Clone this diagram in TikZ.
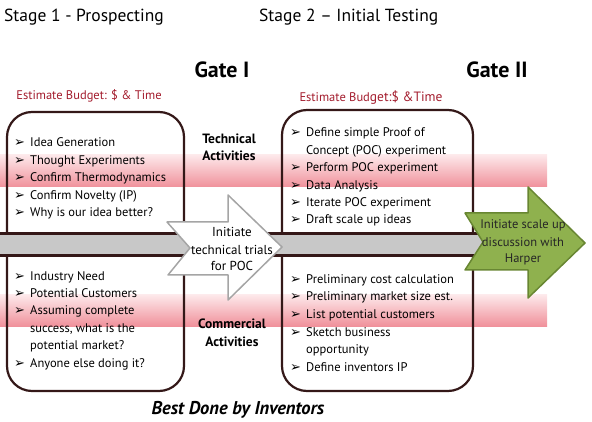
\documentclass[tikz,border=0pt]{standalone}
\usepackage{fontspec}
\setmainfont{PT Sans}
\newfontfamily\symfont{DejaVu Sans}
\definecolor{budgetred}{RGB}{163,28,45}
\definecolor{boxbrown}{RGB}{52,24,24}
\definecolor{bandgray}{RGB}{200,200,200}
\definecolor{pinkdeep}{RGB}{240,145,155}
\definecolor{pinklight}{RGB}{253,232,234}
\definecolor{arrowgray}{RGB}{165,165,165}
\definecolor{leafgreen}{RGB}{143,177,78}
\definecolor{leafdark}{RGB}{104,134,50}
\newcommand{\bul}{\makebox[16pt][l]{\symfont\fontsize{13}{10}\selectfont ➢}}
\newcommand{\ind}{\hspace*{16pt}}

\begin{document}
\begin{tikzpicture}[x=1pt,y=-1pt,line join=round,
	every node/.style={inner sep=0pt,font=\fontsize{13}{17.4}\selectfont},
	lst/.style={anchor=base west,align=left,font=\fontsize{12.5}{17.4}\selectfont},
	stage/.style={anchor=base west,font=\fontsize{17.5}{20}\selectfont},
	gate/.style={anchor=base,font=\fontsize{22}{26}\selectfont\bfseries},
	budget/.style={anchor=base,text=budgetred,font=\fontsize{12.5}{15}\selectfont},
	act/.style={anchor=base,align=center,font=\fontsize{13.5}{17.8}\selectfont\bfseries},
	stagebox/.style={draw=boxbrown,line width=2.2pt,rounded corners=25pt},
	pinkband/.style={top color=pinklight,bottom color=pinkdeep}]
	\useasboundingbox (0,0) rectangle (592,422);
	%% Tiêu đề các giai đoạn
	\node[stage] (stageA) at (4,22) {Stage 1 - Prospecting};
	\node[stage] (stageB) at (259,22) {Stage 2 – Initial Testing};
	\node[gate] (gateA) at (222,78) {Gate I};
	\node[gate] (gateB) at (497,78) {Gate II};
	\node[budget] (budA) at (89,100) {Estimate Budget: \$ \& Time};
	\node[budget] (budB) at (371,102) {Estimate Bud{\fontsize{13.5}{15}\selectfont get:\$ \&Time}};
	%% Dải hồng
	\shade[pinkband] (0,155) rectangle (547,187);
	\shade[pinkband] (0,295) rectangle (547,326);
	%% Hai khung
	\draw[stagebox] (7,112) rectangle (184,391);
	\draw[stagebox] (282,110) rectangle (473,391);
	%% Dải xám
	\draw[draw=boxbrown,line width=3pt,fill=bandgray] (-5,233.5) rectangle (495,255.5);
	%% Mũi tên trắng
	\draw[draw=arrowgray,line width=1.5pt,fill=white] (167,222) -- (228,222) -- (228,195) -- (282,247) -- (228,300) -- (228,275) -- (168,275) -- (190,248) -- cycle;
	\node[anchor=base,align=center,font=\fontsize{13}{17}\selectfont] (trials) at (232,271) {Initiate\\technical trials\\for POC};
	%% Mũi tên xanh
	\draw[draw=leafdark,line width=1.5pt,fill=leafgreen] (465,213) -- (528,213) -- (528,187) -- (585,243) -- (528,298) -- (528,270) -- (465,270) -- (483,242) -- cycle;
	\node[anchor=base,align=center,text=black!85,font=\fontsize{12.5}{17}\selectfont] (scaleup) at (523,263) {Initiate scale up\\discussion with\\Harper};
	%% Hoạt động
	\node[act] (tech) at (229,161) {Technical\\Activities};
	\node[act] (comm) at (232,346) {Commercial\\Activities};
	%% Danh sách (mốc là dòng cuối)
	\node[lst] (techA) at (14,216.6) {\bul Idea Generation\\\bul Thought Experiments\\\bul Confirm Thermodynamics\\\bul Confirm Novelty (IP)\\\bul Why is our idea better?};
	\node[lst] (commA) at (14,367) {\bul Industry Need\\\bul Potential Customers\\\bul Assuming complete\\\ind success, what is the\\\ind potential market?\\\bul Anyone else doing it?};
	\node[lst] (techB) at (290,224) {\bul Define simple Proof of\\\ind Concept (POC) experiment\\\bul Perform POC experiment\\\bul Data Analysis\\\bul Iterate POC experiment\\\bul Draft scale up ideas};
	\node[lst,font=\fontsize{12.5}{17.7}\selectfont] (commB) at (290,371.5) {\bul Preliminary cost calculation\\\bul Preliminary market size est.\\\bul List potential customers\\\bul Sketch business\\\ind opportunity\\\bul Define inventors IP};
	\node[anchor=base,font=\fontsize{18.5}{21}\selectfont\bfseries\itshape] (best) at (238,414) {Best Done by Inventors};
\end{tikzpicture}
\end{document}
